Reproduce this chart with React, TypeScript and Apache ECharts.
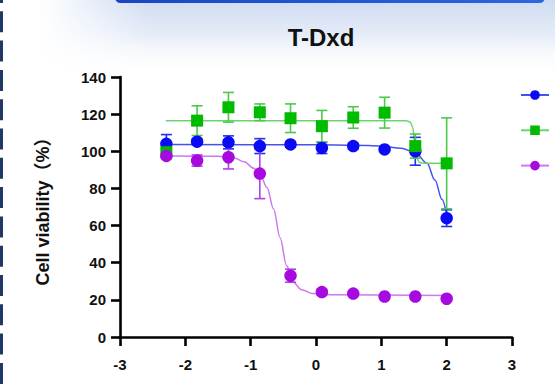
import React, { useEffect, useRef } from "react";
import * as echarts from "echarts";

const titleText = "T-Dxd";
const yAxisName = "Cell viability（%）";
const xAxisName = "log[Conc.](nM)";
const seriesNames = ["Cell line 1", "Cell line 2", "Cell line 3"];

const doseX = [-2.29, -1.82, -1.34, -0.86, -0.39, 0.09, 0.57, 1.05, 1.52, 2.0];
const blueY = [104, 105.2, 104.8, 102.8, 103.7, 101.8, 102.8, 101, 100, 64];
const blueErr = [5, 1.5, 3.5, 4, 1.5, 3, 1.5, 1, 7.5, 4.5];
const greenY = [99.5, 116.5, 123.7, 121, 117.8, 113.5, 118.2, 120.8, 102.8, 93.5];
const greenErr = [2, 8, 8, 4.5, 7.7, 8.5, 5.8, 8.3, 6.5, 24.5];
const purpleY = [97.5, 95, 96.8, 88, 33, 24.2, 23.4, 21.8, 21.8, 20.6];
const purpleErr = [1.5, 3, 6.3, 13.5, 3.5, 1.5, 1, 1, 1, 1];

const blueFit = [[-2.3, 103.6], [0, 103.5], [0.6, 103.3], [1.0, 102.8], [1.3, 101.6], [1.52, 99.4], [1.7, 93.5], [1.82, 84.5], [1.93, 74], [2.0, 65.5]];
const greenFit = [[-2.3, 116.5], [1.38, 116.5], [1.44, 115.8], [1.48, 113], [1.51, 105], [1.54, 97], [1.58, 94], [1.65, 93.6], [2.0, 93.6]];
const purpleFit = [[-2.3, 97.6], [-1.5, 97.3], [-1.25, 96.4], [-1.1, 94.3], [-0.95, 90.8], [-0.85, 87], [-0.75, 80.5], [-0.65, 69], [-0.55, 53.5], [-0.45, 38.5], [-0.35, 29.5], [-0.22, 25.5], [-0.05, 23.4], [0.3, 22.7], [2.0, 22.4]];

const FONT = "'Liberation Sans', Arial, 'Noto Sans CJK SC', sans-serif";

function buildGroup(name: string, ys: number[], errs: number[], fit: number[][], symbol: string, size: number, dot: string, line: string, errColor: string) {
  const pts = doseX.map((x, i) => [x, ys[i]]);
  const errs3 = doseX.map((x, i) => [x, ys[i] - errs[i], ys[i] + errs[i]]);
  return [
    {
      name,
      type: "line",
      data: fit,
      smooth: 0.35,
      smoothMonotone: "x",
      showSymbol: false,
      symbol,
      symbolSize: size,
      itemStyle: { color: dot },
      lineStyle: { color: line, width: 1.5 },
      z: 2,
      silent: true,
    },
    {
      name: name + " err",
      type: "custom",
      data: errs3,
      encode: { x: 0, y: [1, 2] },
      z: 3,
      silent: true,
      renderItem: (params: any, api: any) => {
        const x = api.value(0);
        const lo = api.value(1);
        const hi = api.value(2);
        const a = api.coord([x, hi]);
        const b = api.coord([x, lo]);
        const w = 5.5;
        const st = { stroke: errColor, lineWidth: 1.6 };
        return {
          type: "group",
          children: [
            { type: "line", shape: { x1: a[0], y1: a[1], x2: b[0], y2: b[1] }, style: st },
            { type: "line", shape: { x1: a[0] - w, y1: a[1], x2: a[0] + w, y2: a[1] }, style: st },
            { type: "line", shape: { x1: b[0] - w, y1: b[1], x2: b[0] + w, y2: b[1] }, style: st },
          ],
        };
      },
    },
    {
      name,
      type: "scatter",
      data: pts,
      symbol,
      symbolSize: size,
      itemStyle: { color: dot, opacity: 1 },
      z: 4,
      silent: true,
    },
  ];
}

export default function App() {
  const ref = useRef<HTMLDivElement>(null);
  useEffect(() => {
    if (!ref.current) return;
    const chart = echarts.init(ref.current, undefined, { renderer: "svg" });
    const series = [
      ...buildGroup(seriesNames[0], blueY, blueErr, blueFit, "circle", 12.5, "#0a0af5", "#4552f0", "#2030f0"),
      ...buildGroup(seriesNames[1], greenY, greenErr, greenFit, "rect", 12, "#00bb00", "#6cd46c", "#4cc84c"),
      ...buildGroup(seriesNames[2], purpleY, purpleErr, purpleFit, "circle", 12.5, "#a60ae0", "#cc78ee", "#b040e6"),
    ];
    chart.setOption({
      animation: false,
      backgroundColor: "#ffffff",
      graphic: [
        {
          type: "rect",
          z: -10,
          silent: true,
          shape: { x: 40, y: 0, width: 515, height: 78 },
          style: {
            fill: new echarts.graphic.LinearGradient(0, 0, 0, 1, [
              { offset: 0, color: "#cfdbf1" },
              { offset: 0.45, color: "#e6edf8" },
              { offset: 1, color: "rgba(255,255,255,0)" },
            ]),
          },
        },
        {
          type: "rect",
          z: -9,
          silent: true,
          shape: { x: 0, y: 0, width: 150, height: 78 },
          style: {
            fill: new echarts.graphic.LinearGradient(0, 0, 1, 0, [
              { offset: 0, color: "rgba(255,255,255,1)" },
              { offset: 0.3, color: "rgba(255,255,255,0.95)" },
              { offset: 1, color: "rgba(255,255,255,0)" },
            ]),
          },
        },
        {
          type: "rect",
          z: -8,
          silent: true,
          shape: { x: 115, y: -8, width: 430, height: 11, r: 6 },
          style: {
            fill: new echarts.graphic.LinearGradient(0, 0, 1, 0, [
              { offset: 0, color: "#1a44c2" },
              { offset: 0.5, color: "#1f56d6" },
              { offset: 1, color: "#2d66de" },
            ]),
          },
        },
        {
          type: "line",
          z: -7,
          silent: true,
          shape: { x1: 1.5, y1: 0, x2: 1.5, y2: 388 },
          style: { stroke: "#1f3864", lineWidth: 3, lineDash: [21, 8.3], lineDashOffset: 18 },
        },
      ],
      title: {
        text: titleText,
        left: 316,
        top: 20,
        textAlign: "center",
        textStyle: { fontFamily: FONT, fontWeight: "bold", fontSize: 24, color: "#111" },
      },
      legend: {
        orient: "vertical",
        left: 515,
        top: 84,
        itemWidth: 28,
        itemHeight: 12,
        itemGap: 24.5,
        formatter: () => "",
        data: seriesNames,
        selectedMode: false,
      },
      grid: { left: 120, top: 77, width: 392, height: 260, containLabel: false, outerBoundsMode: "none" },
      xAxis: {
        type: "value",
        min: -3,
        max: 3,
        interval: 1,
        name: xAxisName,
        nameLocation: "middle",
        nameGap: 52,
        nameTextStyle: { fontFamily: FONT, fontWeight: "bold", fontSize: 16, color: "#111" },
        axisLine: { onZero: false, lineStyle: { color: "#000", width: 2.6 } },
        axisTick: { show: true, length: 9, lineStyle: { color: "#000", width: 2.6 } },
        axisLabel: { fontFamily: FONT, fontWeight: "bold", fontSize: 15, color: "#111", margin: 20 },
        splitLine: { show: false },
      },
      yAxis: {
        type: "value",
        min: 0,
        max: 140,
        interval: 20,
        name: yAxisName,
        nameLocation: "middle",
        nameGap: 68,
        nameRotate: 90,
        nameTextStyle: { fontFamily: FONT, fontWeight: "bold", fontSize: 18, color: "#111" },
        axisLine: { show: true, onZero: false, lineStyle: { color: "#000", width: 2.6 } },
        axisTick: { show: true, length: 9, lineStyle: { color: "#000", width: 2.6 } },
        axisLabel: { fontFamily: FONT, fontWeight: "bold", fontSize: 15, color: "#111", margin: 14 },
        splitLine: { show: false },
      },
      series,
    });
    return () => chart.dispose();
  }, []);
  return <div ref={ref} style={{ position: "fixed", left: 0, top: 0, width: 555, height: 388 }} />;
}
